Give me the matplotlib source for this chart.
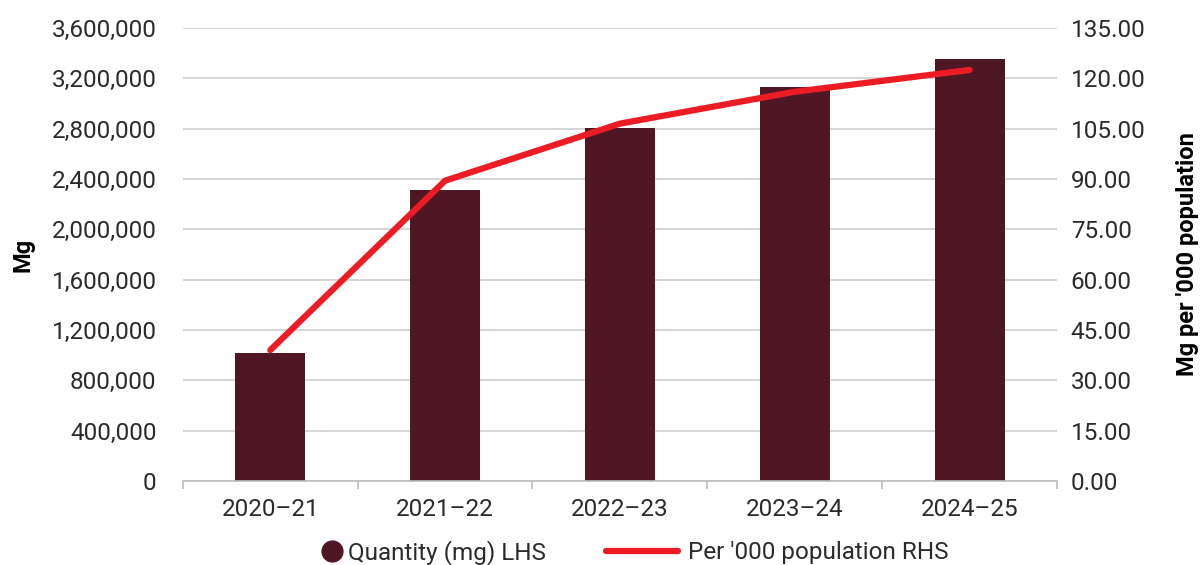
import numpy as np
import matplotlib.pyplot as plt
from matplotlib.lines import Line2D
from matplotlib.ticker import FuncFormatter, MultipleLocator

plt.rcParams['font.family'] = ['Roboto', 'DejaVu Sans']

years = ["2020\u201321", "2021\u201322", "2022\u201323", "2023\u201324", "2024\u201325"]
quantity = [1015000, 2310000, 2805000, 3130000, 3355000]
per_000 = [39.0, 89.5, 106.5, 116.0, 122.5]

bar_color = "#4E1723"
line_color = "#EC1C24"
text_color = "#2b2b2b"
fs = 17.5

fig = plt.figure(figsize=(12.03, 5.65), dpi=100)
ax = fig.add_axes([0.152, 0.1487, 0.7266, 0.8017])
ax2 = ax.twinx()

x = np.arange(len(years))
ax.bar(x, quantity, width=0.4, color=bar_color, zorder=2)
ax2.plot(x, per_000, color=line_color, lw=4.5, solid_capstyle="round", zorder=3)

ax.set_xlim(-0.5, len(years) - 0.5)
ax.set_ylim(0, 3600000)
ax2.set_ylim(0, 135)
ax.yaxis.set_major_locator(MultipleLocator(400000))
ax2.yaxis.set_major_locator(MultipleLocator(15))
ax.yaxis.set_major_formatter(FuncFormatter(lambda v, p: f"{int(v):,}"))
ax2.yaxis.set_major_formatter(FuncFormatter(lambda v, p: f"{v:.2f}"))

ax.grid(axis="y", color="#d0d0d0", lw=1.2, zorder=0)
ax.set_axisbelow(True)

for a in (ax, ax2):
    for s in ("top", "left", "right", "bottom"):
        a.spines[s].set_visible(False)
ax.tick_params(axis="y", length=0, labelsize=fs, colors=text_color, pad=19)
ax2.tick_params(axis="y", length=0, labelsize=fs, colors=text_color, pad=10)

ax.spines["bottom"].set_visible(True)
ax.spines["bottom"].set_color("#bdbdbd")
ax.spines["bottom"].set_linewidth(1.2)

ax.set_xticks(x)
ax.set_xticklabels(years)
ax.set_xticks(np.arange(-0.5, len(years), 1), minor=True)
ax.tick_params(axis="x", which="major", length=0, labelsize=fs, colors=text_color, pad=12)
ax.tick_params(axis="x", which="minor", length=6, color="#bdbdbd", width=1.2)

ax.set_ylabel("Mg", fontsize=17, fontweight="bold", labelpad=12)
ax2.set_ylabel("Mg per '000 population", fontsize=17, fontweight="bold", labelpad=22)

# two legends so the circle can sit close to its text
leg1 = fig.legend([Line2D([], [], marker="o", color="none", markerfacecolor=bar_color,
                          markeredgecolor=bar_color, markersize=15)],
                  ["Quantity (mg) LHS"], loc="center", bbox_to_anchor=(0.36, 0.022),
                  frameon=False, fontsize=fs, handlelength=0.9, handletextpad=0.2,
                  labelcolor=text_color)
leg2 = fig.legend([Line2D([], [], color=line_color, lw=4.5, solid_capstyle="round")],
                  ["Per '000 population RHS"], loc="center", bbox_to_anchor=(0.646, 0.022),
                  frameon=False, fontsize=fs, handlelength=3.0, handletextpad=0.4,
                  labelcolor=text_color)

fig.savefig("out.png", dpi=100)
